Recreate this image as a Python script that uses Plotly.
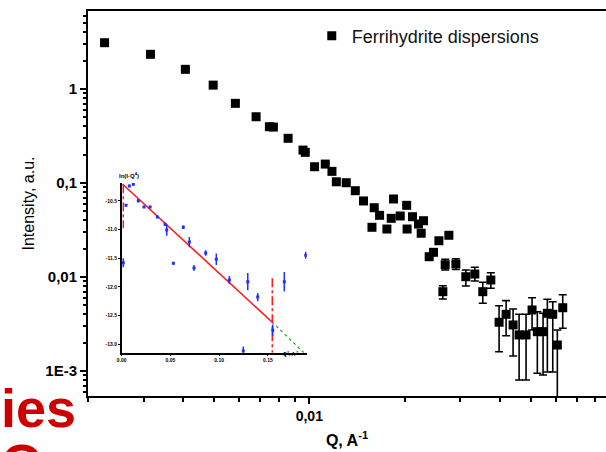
import plotly.graph_objects as go

# ---- main SAXS curve: Q (1/A) and intensity (a.u.) ----
q = [0.002256, 0.00315, 0.00406, 0.00497, 0.00584, 0.00679, 0.00748, 0.00770,
     0.00857, 0.00955, 0.00971, 0.01039, 0.01123, 0.01179, 0.01217, 0.01308,
     0.01397, 0.01483, 0.01577, 0.01603, 0.01667, 0.01758, 0.01814, 0.01845,
     0.01937, 0.02030, 0.02036, 0.02118, 0.02212, 0.02256, 0.02294, 0.02391,
     0.02467, 0.02566, 0.02641, 0.02686, 0.02759, 0.02903, 0.03121, 0.03332,
     0.03531, 0.03743, 0.03975, 0.04183, 0.04401, 0.04598, 0.04836, 0.05052,
     0.05250, 0.05473, 0.05647, 0.05873, 0.06072, 0.06315]
intensity = [3.11, 2.34, 1.62, 1.10, 0.704, 0.507, 0.397, 0.394,
             0.299, 0.224, 0.212, 0.149, 0.159, 0.133, 0.103, 0.1007,
             0.0828, 0.0644, 0.0338, 0.0546, 0.0453, 0.0324, 0.0421, 0.0676,
             0.0446, 0.0579, 0.0324, 0.0438, 0.0366, 0.0292, 0.0397, 0.01644,
             0.0183, 0.0243, 0.00698, 0.01351, 0.0278, 0.01375, 0.01007, 0.01076,
             0.00698, 0.00929, 0.00330, 0.00401, 0.00309, 0.00242, 0.00242, 0.00446,
             0.00262, 0.00262, 0.00411, 0.00401, 0.00189, 0.00471]
# upper / lower ends of the error bars (None = no bar)
i_upper = [None] * 34 + [0.00808, 0.01543, None, 0.01565, 0.01187, 0.01268,
                         0.00878, 0.01111, 0.00495, 0.00560, 0.00457, 0.00401,
                         0.00401, 0.00602, 0.00427, 0.00411, 0.00579, 0.00546,
                         0.00273, 0.00648]
i_lower = [None] * 34 + [0.00583, 0.01187, None, 0.01202, 0.00802, 0.00907,
                         0.00525, 0.00758, 0.001605, 0.002374, 0.001444, 0.000802,
                         0.000802, 0.00273, 0.000945, 0.000907, 0.000976, 0.000976,
                         0.0001, 0.00285]

err_plus = [0 if u is None else u - v for u, v in zip(i_upper, intensity)]
err_minus = [0 if l is None else v - l for l, v in zip(i_lower, intensity)]

# ---- inset: Porod representation ln(I*Q^4) vs Q^2 ----
inset_q2 = [0.0016, 0.0044, 0.0078, 0.0119, 0.0170, 0.0229, 0.0291, 0.0366,
            0.0445, 0.0462, 0.0530, 0.0632, 0.0694, 0.0742, 0.0862, 0.0971,
            0.1105, 0.1248, 0.1294, 0.1396, 0.1550, 0.1669, 0.1889]
inset_ln = [-11.58, -10.575, -10.24, -10.21, -10.50, -10.605, -10.605, -10.78,
            -10.91, -11.01, -11.59, -10.96, -11.22, -11.67, -11.41, -11.52,
            -11.88, -13.12, -11.91, -12.18, -12.76, -11.91, -11.45]
inset_err = [0.08, 0.02, 0.02, 0.02, 0.03, 0.02, 0.02, 0.02, 0.03, 0.10, 0.02, 0.03,
             0.09, 0.05, 0.05, 0.10, 0.07, 0.08, 0.15, 0.07, 0.10, 0.17, 0.06]
fit_q2 = [0.001, 0.154]
fit_ln = [-10.21, -12.61]
extrap_q2 = [0.154, 0.187]
extrap_ln = [-12.61, -13.15]
cut_low_q2 = [0.0016, 0.0016]
cut_low_ln = [-10.21, -10.98]
cut_high_q2 = [0.1546, 0.1546]
cut_high_ln = [-11.85, -13.15]
inset_yticks = [-10.5, -11.0, -11.5, -12.0, -12.5, -13.0]
inset_xticks = [0.0, 0.05, 0.10, 0.15]

FONT = "Liberation Sans, Arial, sans-serif"

fig = go.Figure()

fig.add_trace(go.Scatter(
    x=q, y=intensity, mode="markers", name="Ferrihydrite dispersions",
    marker=dict(symbol="square", size=9, color="black"),
    error_y=dict(type="data", symmetric=False, array=err_plus, arrayminus=err_minus,
                 color="black", thickness=1.6, width=4),
    xaxis="x", yaxis="y",
))

# inset traces
fig.add_trace(go.Scatter(
    x=fit_q2, y=fit_ln, mode="lines", line=dict(color="#ff1a1a", width=1.6),
    xaxis="x2", yaxis="y2", showlegend=False))
fig.add_trace(go.Scatter(
    x=extrap_q2, y=extrap_ln, mode="lines", line=dict(color="#33aa33", width=1.3, dash="dot"),
    xaxis="x2", yaxis="y2", showlegend=False))
fig.add_trace(go.Scatter(
    x=cut_low_q2, y=cut_low_ln, mode="lines", line=dict(color="#ff1a1a", width=1.4, dash="dashdot"),
    xaxis="x2", yaxis="y2", showlegend=False))
fig.add_trace(go.Scatter(
    x=cut_high_q2, y=cut_high_ln, mode="lines", line=dict(color="#ff1a1a", width=1.6, dash="dashdot"),
    xaxis="x2", yaxis="y2", showlegend=False))
fig.add_trace(go.Scatter(
    x=inset_q2, y=inset_ln, mode="markers",
    marker=dict(symbol="square", size=3, color="#1f2fff"),
    error_y=dict(type="data", array=inset_err, color="#1f2fff", thickness=1.5, width=0),
    xaxis="x2", yaxis="y2", showlegend=False))

x_minor = [0.002, 0.003, 0.004, 0.005, 0.006, 0.007, 0.008, 0.009,
           0.02, 0.03, 0.04, 0.05, 0.06, 0.07, 0.08]
y_minor = [m * 10 ** e for e in (-4, -3, -2, -1, 0) for m in range(2, 10)]

fig.update_layout(
    width=606, height=452,
    margin=dict(l=88, r=0, t=11, b=56),
    paper_bgcolor="white", plot_bgcolor="white",
    font=dict(family=FONT, color="black"),
    showlegend=True,
    legend=dict(x=0.432, y=0.935, xanchor="left", yanchor="middle",
                bgcolor="rgba(0,0,0,0)", font=dict(size=18, family=FONT, color="#111")),
    xaxis=dict(
        type="log", range=[-2.699, -1.063], domain=[0, 1], anchor="y",
        showline=True, linecolor="black", linewidth=2, mirror=True,
        showgrid=False, zeroline=False,
        tickmode="array", tickvals=[0.01], ticktext=["0,01"],
        ticks="outside", ticklen=6, tickwidth=2, tickcolor="black",
        tickfont=dict(size=14, family=FONT, color="black", weight="bold"),
        minor=dict(tickmode="array", tickvals=x_minor, ticks="outside",
                   ticklen=4, tickwidth=2, tickcolor="black", showgrid=False),
        title=dict(text="<b>Q, A<sup>-1</sup></b>", font=dict(size=16, family=FONT), standoff=12),
    ),
    yaxis=dict(
        type="log", range=[-3.266, 0.830], domain=[0, 1], anchor="x",
        showline=True, linecolor="black", linewidth=2, mirror=False,
        showgrid=False, zeroline=False,
        tickmode="array", tickvals=[0.001, 0.01, 0.1, 1], ticktext=["1E-3", "0,01", "0,1", "1"],
        ticks="outside", ticklen=6, tickwidth=2, tickcolor="black",
        tickfont=dict(size=15, family=FONT, color="black", weight="bold"),
        minor=dict(tickmode="array", tickvals=y_minor, ticks="outside",
                   ticklen=3, tickwidth=1.5, tickcolor="black", showgrid=False),
        title=dict(text="Intensity, a.u.", font=dict(size=16, family=FONT), standoff=7),
    ),
    xaxis2=dict(
        range=[0, 0.19], domain=[0.0651, 0.4224], anchor="y2",
        showline=True, linecolor="black", linewidth=1.5, showgrid=False, zeroline=False,
        tickmode="array", tickvals=inset_xticks, ticktext=["0.00", "0.05", "0.10", "0.15"],
        ticks="outside", ticklen=2, tickwidth=1, tickcolor="black",
        tickfont=dict(size=5, family=FONT, color="black", weight="bold"),
    ),
    yaxis2=dict(
        range=[-13.15, -10.19], domain=[0.1125, 0.553], anchor="x2",
        showline=True, linecolor="black", linewidth=1.5, showgrid=False, zeroline=False,
        tickmode="array", tickvals=inset_yticks,
        ticktext=["-10.5", "-11.0", "-11.5", "-12.0", "-12.5", "-13.0"],
        ticks="outside", ticklen=2, tickwidth=1, tickcolor="black",
        tickfont=dict(size=5, family=FONT, color="black", weight="bold"),
    ),
    annotations=[
        dict(text="<b>ln(I·Q<sup>4</sup>)</b>", xref="paper", yref="paper",
             x=0.056, y=0.574, showarrow=False, font=dict(size=6, family=FONT)),
        dict(text="<b>Q<sup>2</sup>, A<sup>-2</sup></b>", xref="paper", yref="paper",
             x=0.39, y=0.096, showarrow=False, font=dict(size=5, family=FONT)),
        dict(text="<b>ies</b>", xref="paper", yref="paper", x=-0.172, y=-0.03,
             xanchor="left", yanchor="middle", showarrow=False,
             font=dict(size=54, family=FONT, color="#cc0000")),
        dict(text="<b>O</b>", xref="paper", yref="paper", x=-0.172, y=-0.175,
             xanchor="left", yanchor="middle", showarrow=False,
             font=dict(size=54, family=FONT, color="#cc0000")),
    ],
)

fig.write_html("out.html")
